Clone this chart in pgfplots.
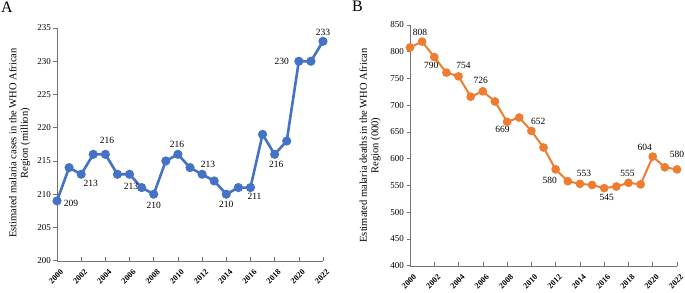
\documentclass[border=0pt]{standalone}
\usepackage{fontspec}
\setmainfont{Liberation Serif}
\usepackage{pgfplots}
\pgfplotsset{compat=1.18}
\definecolor{ablue}{HTML}{4472C4}
\definecolor{aorange}{HTML}{ED7D31}
\tikzset{lab/.style={font=\fontsize{9.5}{10}\selectfont, inner sep=0pt}}
\begin{document}
\begin{tikzpicture}
\useasboundingbox (0pt,0pt) rectangle (685pt,292pt);
\pgfplotsset{
  common/.style={
    scale only axis,
    axis lines=left,
    axis line style={black!55,-},
    every tick/.style={black!55, line width=0.6pt},
    xmin=2000, xmax=2022,
    xtick={2000,2002,...,2022},
    scaled ticks=false,
    /pgf/number format/1000 sep={},
    /pgf/number format/assume math mode=true,
    tick align=outside,
    major tick length=3.5pt,
    x tick style={yshift=3.5pt},
    x tick label style={rotate=45, anchor=east, font=\fontsize{8.2}{9}\selectfont\bfseries, inner sep=0.5pt, yshift=-8pt, xshift=-0.5pt},
    y tick label style={font=\fontsize{9}{10}\selectfont, inner sep=1pt, xshift=-1.5pt},
    label style={font=\fontsize{10.5}{11.5}\selectfont, align=center},
    clip=false,
  },
}
% ---------------- Panel A ----------------
\begin{axis}[common,
  at={(57pt,31.3pt)}, anchor=south west,
  width=266pt, height=232.7pt,
  ymin=200, ymax=235, ytick={200,205,...,235},
  ylabel={Estimated malaria cases in the WHO African\\Region (million)},
  ylabel style={at={(axis description cs:-0.141,0.505)}, anchor=center, rotate=0},
]
\addplot[ablue, line width=2.6pt, mark=*, mark size=3.2pt, mark options={solid}] coordinates {
(2000,209) (2001,214) (2002,213) (2003,216) (2004,216) (2005,213) (2006,213)
(2007,211) (2008,210) (2009,215) (2010,216) (2011,214) (2012,213) (2013,212)
(2014,210) (2015,211) (2016,211) (2017,219) (2018,216) (2019,218) (2020,230)
(2021,230) (2022,233)};
\node[lab, xshift=14pt, yshift=-3pt] at (axis cs:2000,209) {209};
\node[lab, xshift=9.5pt, yshift=-9pt] at (axis cs:2002,213) {213};
\node[lab, xshift=1.6pt, yshift=14pt] at (axis cs:2004,216) {216};
\node[lab, xshift=1.5pt, yshift=-12.5pt] at (axis cs:2006,213) {213};
\node[lab, xshift=0pt, yshift=-11.5pt] at (axis cs:2008,210) {210};
\node[lab, xshift=-1pt, yshift=9.5pt] at (axis cs:2010,216) {216};
\node[lab, xshift=6pt, yshift=10pt] at (axis cs:2012,213) {213};
\node[lab, xshift=0pt, yshift=-10pt] at (axis cs:2014,210) {210};
\node[lab, xshift=4pt, yshift=-9pt] at (axis cs:2016,211) {211};
\node[lab, xshift=1.5pt, yshift=-10pt] at (axis cs:2018,216) {216};
\node[lab, xshift=-17pt, yshift=0pt] at (axis cs:2020,230) {230};
\node[lab, xshift=0pt, yshift=9pt] at (axis cs:2022,233) {233};
\end{axis}
% ---------------- Panel B ----------------
\begin{axis}[common,
  at={(410pt,26.3pt)}, anchor=south west,
  width=267pt, height=240.7pt,
  ymin=400, ymax=850, ytick={400,450,...,850},
  ylabel={Estimated malaria deaths in the WHO African\\Region (000)},
  ylabel style={at={(axis description cs:-0.15,0.5)}, anchor=center, rotate=0},
]
\addplot[aorange, line width=2pt, mark=*, mark size=3.3pt, mark options={solid}] coordinates {
(2000,808) (2001,819) (2002,790) (2003,761) (2004,754) (2005,716) (2006,726)
(2007,707) (2008,669) (2009,677) (2010,652) (2011,621) (2012,580) (2013,558)
(2014,553) (2015,551) (2016,545) (2017,548) (2018,555) (2019,552) (2020,604)
(2021,584) (2022,580)};
\node[lab, xshift=10pt, yshift=15pt] at (axis cs:2000,808) {808};
\node[lab, xshift=-3pt, yshift=-8.6pt] at (axis cs:2002,790) {790};
\node[lab, xshift=5pt, yshift=11pt] at (axis cs:2004,754) {754};
\node[lab, xshift=-2pt, yshift=10.6pt] at (axis cs:2006,726) {726};
\node[lab, xshift=-4.5pt, yshift=-8pt] at (axis cs:2008,669) {669};
\node[lab, xshift=7pt, yshift=10pt] at (axis cs:2010,652) {652};
\node[lab, xshift=-6pt, yshift=-10.6pt] at (axis cs:2012,580) {580};
\node[lab, xshift=4pt, yshift=10pt] at (axis cs:2014,553) {553};
\node[lab, xshift=2.5pt, yshift=-9pt] at (axis cs:2016,545) {545};
\node[lab, xshift=-1pt, yshift=9.5pt] at (axis cs:2018,555) {555};
\node[lab, xshift=-8pt, yshift=9pt] at (axis cs:2020,604) {604};
\node[lab, xshift=0pt, yshift=15pt] at (axis cs:2022,580) {580};
\end{axis}
\node[anchor=base west, inner sep=0pt, font=\fontsize{16}{16}\selectfont] at (1pt,279pt) {A};
\node[anchor=base west, inner sep=0pt, font=\fontsize{16}{16}\selectfont] at (352pt,280pt) {B};
\end{tikzpicture}
\end{document}
